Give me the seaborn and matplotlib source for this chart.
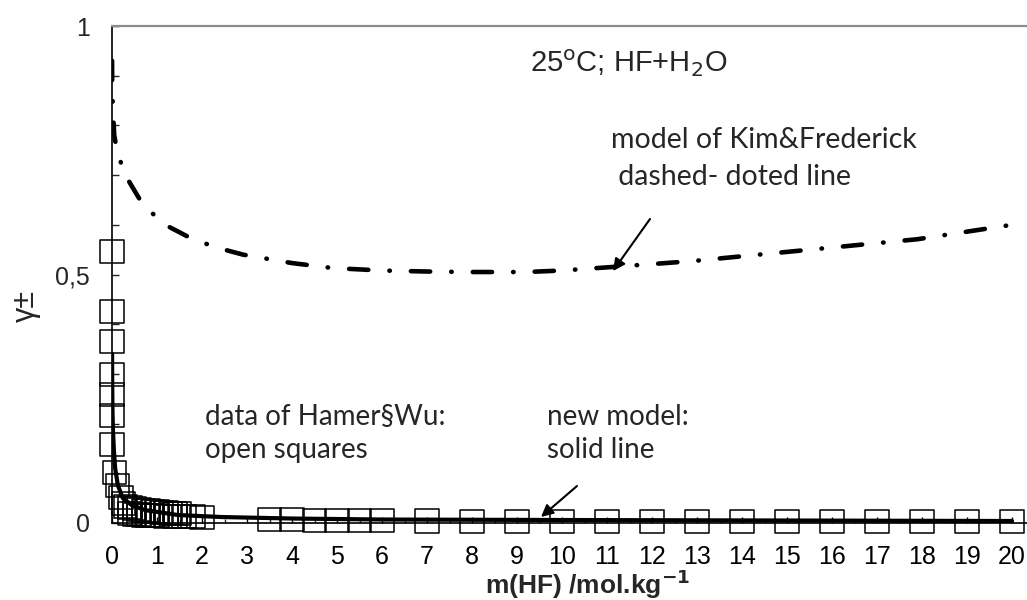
import matplotlib
matplotlib.use("Agg")
import matplotlib.pyplot as plt
import matplotlib.ticker as mticker
import seaborn as sns
import pandas as pd

# ---- data ----
# Hamer & Wu data (open squares)
hw_x = [0.0, 0.0, 0.0, 0.0, 0.0, 0.0, 0.0, 0.05, 0.13, 0.2, 0.25,
        0.3, 0.4, 0.5, 0.6, 0.7, 0.8, 0.9, 1.0, 1.1, 1.2, 1.3, 1.4, 1.5,
        0.4, 0.5, 0.6, 0.7, 0.8, 0.9, 1.0, 1.2, 1.4, 1.6, 1.8, 2.0,
        3.5, 4.0, 4.5, 5.0, 5.5, 6.0, 7.0, 8.0, 9.0, 10.0, 11.0, 12.0,
        13.0, 14.0, 15.0, 16.0, 17.0, 18.0, 19.0, 20.0]
hw_y = [0.547, 0.425, 0.365, 0.298, 0.258, 0.217, 0.157, 0.102, 0.076, 0.051, 0.040,
        0.034, 0.031, 0.029, 0.027, 0.026, 0.025, 0.024, 0.023, 0.022, 0.021, 0.020, 0.020, 0.019,
        0.020, 0.018, 0.017, 0.016, 0.016, 0.015, 0.015, 0.014, 0.014, 0.013, 0.013, 0.012,
        0.008, 0.008, 0.006, 0.006, 0.005, 0.005, 0.004, 0.003, 0.003, 0.003, 0.003, 0.003,
        0.003, 0.003, 0.003, 0.003, 0.003, 0.003, 0.003, 0.003]

# new model (solid line)
nm_x = [0.002, 0.005, 0.01, 0.02, 0.04, 0.07, 0.13, 0.24, 0.44, 0.73, 1.47, 2.44,
        4.0, 6.0, 10.0, 15.0, 20.0]
nm_y = [0.34, 0.28, 0.23, 0.19, 0.15, 0.11, 0.076, 0.05, 0.036, 0.026, 0.016, 0.012,
        0.009, 0.007, 0.006, 0.005, 0.004]

# model of Kim & Frederick (dash-dotted line)
kf_x = [0.001, 0.005, 0.02, 0.05, 0.13, 0.36, 0.69, 1.18, 1.71, 2.29, 2.91, 4.0,
        4.9, 6.0, 7.0, 8.0, 9.2, 10.0, 11.1, 12.9, 15.4, 17.9, 20.0]
kf_y = [0.93, 0.88, 0.83, 0.78, 0.74, 0.69, 0.64, 0.60, 0.575, 0.555, 0.54, 0.523,
        0.513, 0.508, 0.506, 0.505, 0.505, 0.508, 0.515, 0.527, 0.549, 0.571, 0.600]

x_ticks = list(range(0, 21))
y_ticks = [0, 0.5, 1]
y_tick_labels = ["0", "0,5", "1"]

# ---- figure ----
sns.set_style("ticks")
plt.rcParams["font.family"] = ["Liberation Sans", "DejaVu Sans"]

W, H = 1027, 600
fig = plt.figure(figsize=(W / 100, H / 100), dpi=100)
ax = fig.add_axes([112 / W, 1 - 523 / H, (W - 112) / W, (523 - 26) / H])

hw = pd.DataFrame({"m": hw_x, "g": hw_y})
nm = pd.DataFrame({"m": nm_x, "g": nm_y})
kf = pd.DataFrame({"m": kf_x, "g": kf_y})

sns.lineplot(data=kf, x="m", y="g", ax=ax, color="black", linewidth=3.3,
             linestyle=(0, (4.2, 4.6, 0.1, 4.6)), dash_capstyle="round", zorder=3)
sns.lineplot(data=nm, x="m", y="g", ax=ax, color="black", linewidth=3, zorder=4)
sns.scatterplot(data=hw, x="m", y="g", ax=ax, marker="s", s=275,
                facecolor="none", edgecolor="black", linewidth=1.1,
                zorder=5, clip_on=False)

ax.set_xlim(0, (W - 112) / 45)
ax.set_ylim(0, 1)

ax.xaxis.set_major_locator(mticker.FixedLocator(x_ticks))
ax.xaxis.set_minor_locator(mticker.MultipleLocator(0.5))
ax.set_xticklabels([str(t) for t in x_ticks])
ax.yaxis.set_major_locator(mticker.FixedLocator(y_ticks))
ax.yaxis.set_minor_locator(mticker.MultipleLocator(0.1))
ax.set_yticklabels(y_tick_labels)

ax.tick_params(axis="x", which="major", direction="in", length=4, width=1,
               labelsize=18, pad=16, colors="black")
ax.tick_params(axis="x", which="minor", direction="in", length=3, width=1)
ax.tick_params(axis="y", which="major", direction="in", length=5, width=1,
               labelsize=18, pad=16)
ax.tick_params(axis="y", which="minor", direction="in", length=5, width=1)

for s in ["left", "bottom"]:
    ax.spines[s].set_color("black")
    ax.spines[s].set_linewidth(1.2)
ax.spines["top"].set_color("#8c8c8c")
ax.spines["top"].set_linewidth(1.6)
ax.spines["right"].set_visible(False)

ax.set_xlabel("m(HF) /mol.kg$^{\\mathbf{-1}}$", fontsize=19, fontweight="bold")
ax.xaxis.set_label_coords((588 - 112) / (W - 112), -(584 - 523) / (523 - 26))
ax.xaxis.label.set_va("center")
ax.set_ylabel("γ±", fontsize=22)
ax.yaxis.set_label_coords((26 - 112) / (W - 112), (523 - 306) / (523 - 26))
ax.yaxis.label.set_va("center")


def px(xp, yp):
    return (xp - 112) / 45, (523 - yp) / 497


# ---- annotations ----
ax.text(*px(530, 72), "25$^{\\rm o}$C; HF+H$_2$O", fontsize=21,
        va="baseline", ha="left")

cal = ["Lato", "DejaVu Sans"]
fs = 20
ax.text(*px(611, 148), "model of Kim&Frederick", fontsize=20.5, family=cal,
        va="baseline", ha="left")
ax.text(*px(611, 185), " dashed- doted line", fontsize=20.5, family=cal,
        va="baseline", ha="left")
ax.annotate("", xy=px(613, 271), xytext=px(650, 219),
            arrowprops=dict(arrowstyle="-|>", color="black", lw=1.5,
                            mutation_scale=18, shrinkA=0, shrinkB=0))

ax.text(*px(205, 425), "data of Hamer§Wu:", fontsize=fs, family=cal,
        va="baseline", ha="left")
ax.text(*px(205, 458), "open squares", fontsize=fs, family=cal,
        va="baseline", ha="left")

ax.text(*px(547, 425), "new model:", fontsize=fs, family=cal,
        va="baseline", ha="left")
ax.text(*px(547, 458), "solid line", fontsize=fs, family=cal,
        va="baseline", ha="left")
ax.annotate("", xy=px(541, 517), xytext=px(577, 486),
            arrowprops=dict(arrowstyle="-|>", color="black", lw=1.5,
                            mutation_scale=18, shrinkA=0, shrinkB=0))

fig.savefig("out.png", dpi=100)
